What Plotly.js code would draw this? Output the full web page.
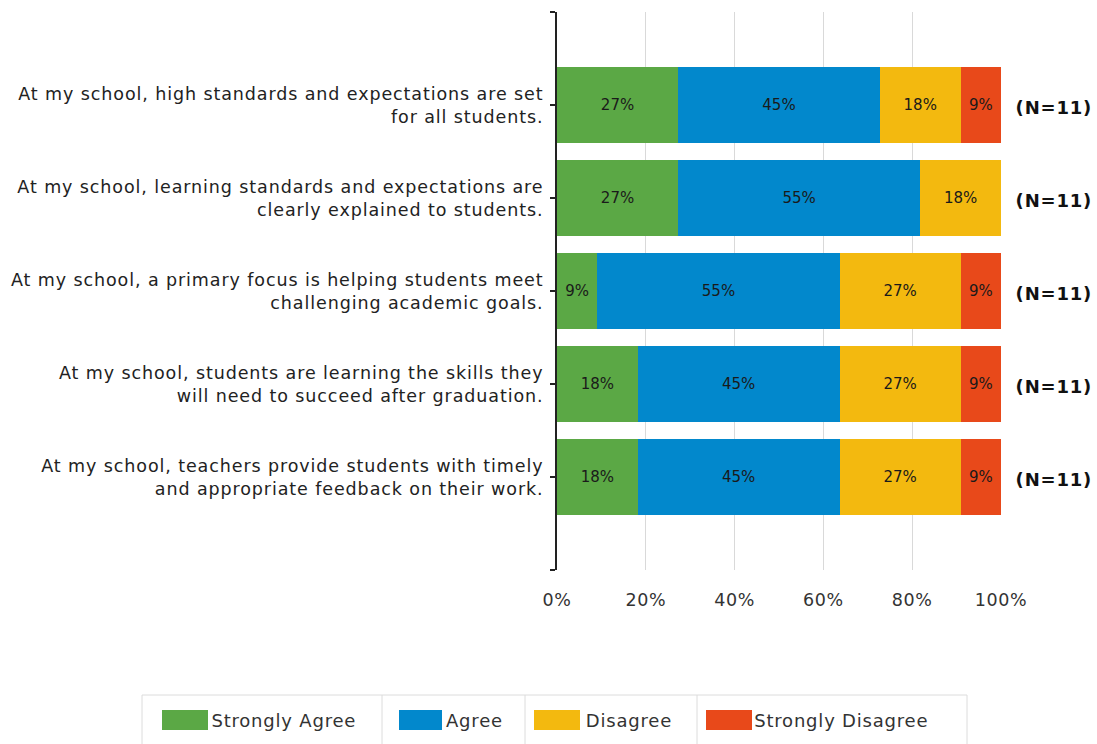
<!DOCTYPE html>
<html>
<head>
<meta charset="utf-8">
<script src="https://cdn.plot.ly/plotly-3.0.1.min.js"></script>
<style>
html,body{margin:0;padding:0;background:#fff;}
#chart{width:1097px;height:744px;}
#chart .ytick text{letter-spacing:0.9px;}
#chart .xtick text{letter-spacing:0.6px;}
#chart .annotation-text{letter-spacing:0.8px;}
</style>
</head>
<body>
<div id="chart"></div>
<script>
// ---- data ----
const categories = [
  "At my school, high standards and expectations are set<br>for all students.",
  "At my school, learning standards and expectations are<br>clearly explained to students.",
  "At my school, a primary focus is helping students meet<br>challenging academic goals.",
  "At my school, students are learning the skills they<br>will need to succeed after graduation.",
  "At my school, teachers provide students with timely<br>and appropriate feedback on their work."
];
const nLabels = ["(N=11)", "(N=11)", "(N=11)", "(N=11)", "(N=11)"];
const seriesNames = ["Strongly Agree", "Agree", "Disagree", "Strongly Disagree"];
const stronglyAgree    = [27.27, 27.27, 9.09, 18.18, 18.18];
const agree            = [45.45, 54.55, 54.55, 45.45, 45.45];
const disagree         = [18.18, 18.18, 27.27, 27.27, 27.27];
const stronglyDisagree = [9.09, 0, 9.09, 9.09, 9.09];
const xTickVals = [0, 20, 40, 60, 80, 100];
const xTickText = ["0%", "20%", "40%", "60%", "80%", "100%"];

const colors = ["#5BA845", "#0288CC", "#F3B90F", "#E8491A"];
const FONT = "DejaVu Sans";
const pos = categories.map((_, i) => i);
const allSeries = [stronglyAgree, agree, disagree, stronglyDisagree];

const traces = allSeries.map((vals, k) => ({
  type: "bar",
  orientation: "h",
  name: seriesNames[k],
  y: pos,
  x: vals,
  width: 0.82,
  marker: {color: colors[k], line: {width: 0}},
  text: vals.map(v => v > 0 ? Math.round(v) + "%" : ""),
  texttemplate: "%{text}",
  textposition: "inside",
  insidetextanchor: "middle",
  textangle: 0,
  constraintext: "none",
  textfont: {family: FONT, size: 15, color: "#1a1a1a"},
  hoverinfo: "name+x",
  showlegend: false
}));

const annotations = nLabels.map((t, i) => ({
  x: 1, xref: "paper", xanchor: "left", xshift: 15,
  y: pos[i], yref: "y", yanchor: "middle", yshift: -2,
  text: "<b>" + t + "</b>", showarrow: false,
  font: {family: FONT, size: 18, color: "#111"}
}));

// custom legend (pixel positions converted to plot-area paper coordinates)
const W = 1097, H = 744;
const M = {l: 557, r: 96, t: 12, b: 174};
const PW = W - M.l - M.r, PH = H - M.t - M.b;
const px = x => (x - M.l) / PW;
const py = y => (H - M.b - y) / PH;
const legBox = {x0: 142, x1: 967, y0: 695, y1: 760};
const seps = [382, 525, 697];
const swatches = [[162, 208], [399, 442], [534, 580], [706, 752]];
const textX = [215, 446, 587, 759];
const shapes = [];
shapes.push({type: "rect", xref: "paper", yref: "paper", x0: px(legBox.x0), x1: px(legBox.x1), y0: py(legBox.y1), y1: py(legBox.y0), line: {color: "#dcdcdc", width: 1}, fillcolor: "rgba(0,0,0,0)"});
seps.forEach(s => shapes.push({type: "line", xref: "paper", yref: "paper", x0: px(s), x1: px(s), y0: py(legBox.y1), y1: py(legBox.y0), line: {color: "#dcdcdc", width: 1}}));
swatches.forEach((sw, k) => shapes.push({type: "rect", xref: "paper", yref: "paper", x0: px(sw[0]), x1: px(sw[1]), y0: py(730), y1: py(710), line: {width: 0}, fillcolor: colors[k]}));
seriesNames.forEach((nm, k) => annotations.push({
  x: px(textX[k]), xref: "paper", xanchor: "left", y: py(720), yref: "paper", yanchor: "middle",
  text: nm, showarrow: false, font: {family: FONT, size: 18, color: "#333"}
}));

const layout = {
  width: W, height: H,
  margin: {l: M.l, r: M.r, t: M.t, b: M.b, pad: 0},
  paper_bgcolor: "#fff", plot_bgcolor: "#fff",
  barmode: "stack",
  bargap: 0,
  showlegend: false,
  font: {family: FONT, size: 16, color: "#222"},
  xaxis: {
    range: [0, 100], tickvals: xTickVals, ticktext: xTickText,
    showgrid: true, gridcolor: "#d9d9d9", gridwidth: 1,
    zeroline: false, showline: false,
    ticks: "outside", ticklen: 14, tickcolor: "rgba(0,0,0,0)",
    tickfont: {family: FONT, size: 17.5, color: "#333"},
    fixedrange: true
  },
  yaxis: {
    range: [5, -1],
    tickvals: [-1, 0, 1, 2, 3, 4, 5],
    ticktext: [""].concat(categories).concat([""]),
    showgrid: false, zeroline: false,
    showline: true, linecolor: "#222", linewidth: 2,
    ticks: "outside", ticklen: 5, tickcolor: "#222", tickwidth: 2,
    tickfont: {family: FONT, size: 17.5, color: "#222"},
    ticklabelstandoff: 3,
    fixedrange: true
  },
  annotations: annotations,
  shapes: shapes
};

Plotly.newPlot("chart", traces, layout, {displayModeBar: false, staticPlot: true});
</script>
</body>
</html>
